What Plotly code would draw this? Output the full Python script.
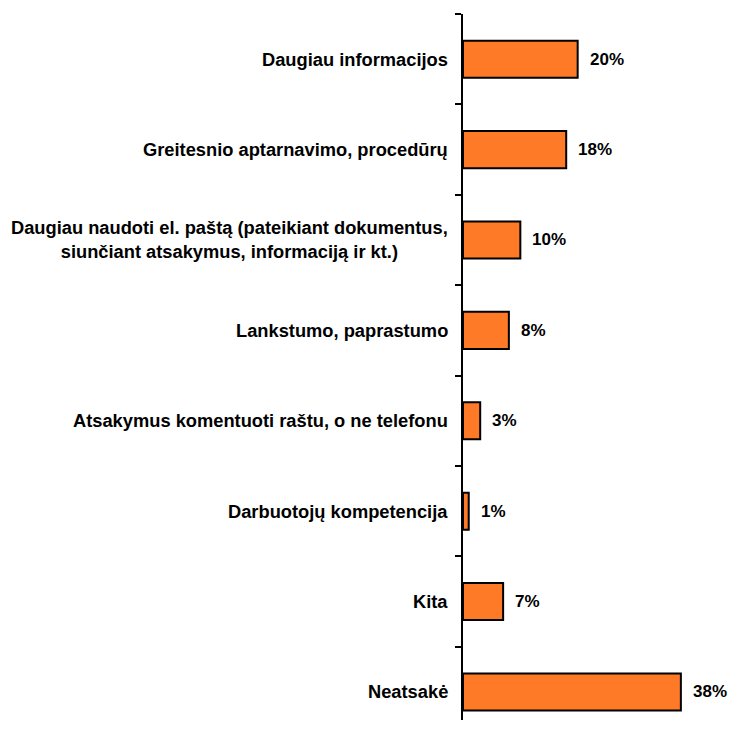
import plotly.graph_objects as go

categories = [
    "Daugiau informacijos",
    "Greitesnio aptarnavimo, procedūrų",
    "Daugiau naudoti el. paštą (pateikiant dokumentus,<br>siunčiant atsakymus, informaciją ir kt.)",
    "Lankstumo, paprastumo",
    "Atsakymus komentuoti raštu, o ne telefonu",
    "Darbuotojų kompetencija",
    "Kita",
    "Neatsakė",
]
values = [20, 18, 10, 8, 3, 1, 7, 38]
value_labels = ["20%", "18%", "10%", "8%", "3%", "1%", "7%", "38%"]

font_family = "Liberation Sans, Arial, sans-serif"

fig = go.Figure()
fig.add_trace(go.Bar(
    x=values,
    y=categories,
    orientation="h",
    marker=dict(color="#FF7A27", line=dict(color="#000000", width=2)),
    hoverinfo="skip",
))

annotations = []
for c, v, t in zip(categories, values, value_labels):
    annotations.append(dict(
        x=v, y=c, xref="x", yref="y", text="<b>%s</b>" % t,
        showarrow=False, xanchor="left", xshift=11, borderpad=0,
        font=dict(family=font_family, size=17, color="#000000"),
    ))
    annotations.append(dict(
        x=0, y=c, xref="x", yref="y", text="<b>%s</b>" % c,
        showarrow=False, xanchor="right", xshift=-13, align="center",
        font=dict(family=font_family, size=18.3, color="#000000"),
    ))

fig.update_layout(
    width=720, height=712,
    margin=dict(l=455, r=7, t=6, b=0),
    plot_bgcolor="white", paper_bgcolor="white",
    bargap=0.59,
    showlegend=False,
    annotations=annotations,
    xaxis=dict(range=[0, 45], visible=False, fixedrange=True),
    yaxis=dict(
        type="category",
        categoryorder="array", categoryarray=categories,
        range=[7.31, -0.5],
        showticklabels=False,
        ticks="outside", ticklen=6, tickwidth=2, tickcolor="#000000",
        tickson="boundaries",
        showline=True, linecolor="#000000", linewidth=2,
        showgrid=False, zeroline=False,
    ),
)

fig.write_html("out.html")
